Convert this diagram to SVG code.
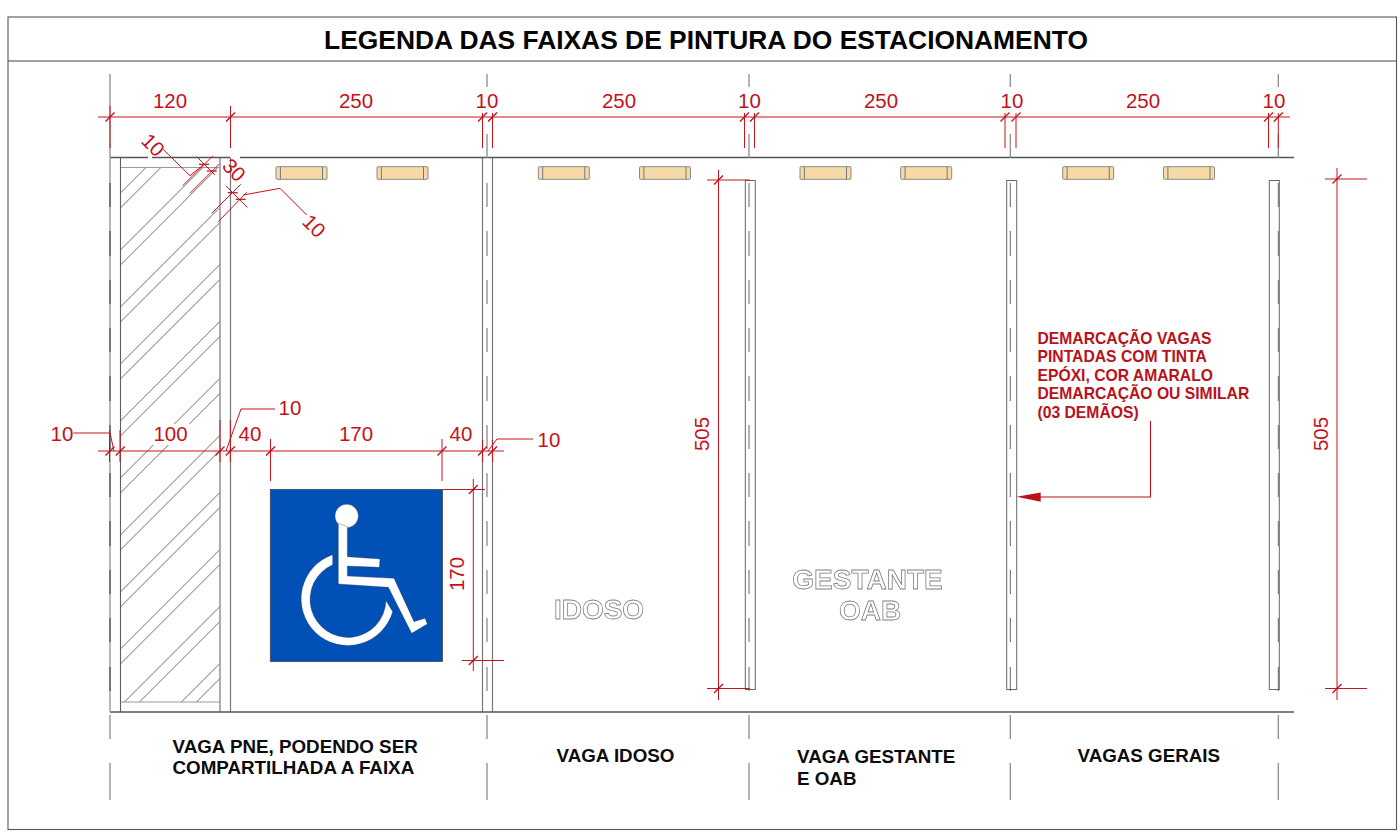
<svg xmlns="http://www.w3.org/2000/svg" width="1400" height="833" viewBox="0 0 1400 833">
<style>
text{font-family:"Liberation Sans",Arial,sans-serif}
.dim{fill:#c4121a;font-size:20.5px;text-anchor:middle}
.red{fill:none;stroke:#c8141c;stroke-width:1}
.tick{fill:none;stroke:#c00c14;stroke-width:1.2}
.ax{fill:none;stroke:#8c8c8c;stroke-width:1.3}
.axd{fill:none;stroke:#666;stroke-width:1}
.wall{fill:none;stroke:#555;stroke-width:1.6}
.edge{fill:none;stroke:#777;stroke-width:1.2}
.thin{fill:none;stroke:#999;stroke-width:1.2}
.hatch{fill:none;stroke:#6e6e6e;stroke-width:1}
.strip{fill:#fff;stroke:#666;stroke-width:1}
.stop{fill:#f5d9a6;stroke:#8a8a8a;stroke-width:1}
.lab{fill:#0c0c0c;font-size:18.8px;font-weight:bold}
.out{fill:#fff;stroke:#808080;stroke-width:.8;font-weight:bold;text-anchor:middle;font-size:28px}
.note{fill:#b8121b;font-size:15.7px;font-weight:bold}
</style>
<defs>
<clipPath id="hc"><rect x="120.5" y="167.5" width="99.5" height="534.5"/></clipPath>
<filter id="gray" x="0" y="0" width="1" height="1"><feOffset dx="0" dy="0"/></filter>
<path id="tk" d="M-4.5 4.5L4.5-4.5" class="tick"/>
<path id="tickh" d="M-5 0H5" class="tick"/>
<g id="stopb"><rect x="0" y="0" width="51" height="12.6" rx="1" class="stop"/><path d="M4.4 0V12.6M46.5 0V12.6" fill="none" stroke="#777" stroke-width="1"/></g>
</defs>
<g id="frame">
<rect x="8" y="17" width="1388.5" height="812.5" fill="#fff" stroke="#555" stroke-width="1.1"/>
<path d="M8 61H1396.5" stroke="#444" stroke-width="1.1" fill="none"/>
<text x="706" y="49" font-size="26.4" font-weight="bold" text-anchor="middle" fill="#050505">LEGENDA DAS FAIXAS DE PINTURA DO ESTACIONAMENTO</text>
</g>
<g id="hatching">
<g clip-path="url(#hc)"><path class="hatch" d="M-388.6 702L145.9 167.5M-373.6 702L160.9 167.5M-331.6 702L202.9 167.5M-316.6 702L217.9 167.5M-274.6 702L259.9 167.5M-259.6 702L274.9 167.5M-217.6 702L316.9 167.5M-202.6 702L331.9 167.5M-160.6 702L373.9 167.5M-145.6 702L388.9 167.5M-103.6 702L430.9 167.5M-88.6 702L445.9 167.5M-46.6 702L487.9 167.5M-31.6 702L502.9 167.5M10.4 702L544.9 167.5M25.4 702L559.9 167.5M67.4 702L601.9 167.5M82.4 702L616.9 167.5M124.4 702L658.9 167.5M139.4 702L673.9 167.5M181.4 702L715.9 167.5M196.4 702L730.9 167.5"/></g>
</g>
<g id="pne-bay">
<path class="thin" d="M120.5 167.5H220M120.5 702H220"/>
<path d="M120.5 157.5V712" fill="none" stroke="#5f5f5f" stroke-width="1.1"/>
<path d="M220 157.5V712" fill="none" stroke="#999" stroke-width="1.6"/>
<path class="edge" d="M230.5 157.5V712M482.5 157.5V712M492.5 157.5V712"/>
<rect x="152" y="424" width="38" height="21" fill="#fff"/>
</g>
<g id="walls">
<path class="wall" d="M110 157.5H148M152 157.5H230M240 157.5H1294M110 712H1294"/>
<path d="M110 157.5V712" fill="none" stroke="#a6a6a6" stroke-width="1.6"/>
<path d="M110 183V207M110 231V256M110 280V304M110 328V352M110 376V401M110 425V449M110 473V497M110 521V546M110 570V594M110 618V642M110 667V691" fill="none" stroke="#666" stroke-width="1.6"/>
</g>
<g id="axes">
<path class="ax" d="M110 74V157M110 715V739M110 763V800M487 74V87M487 134V158M487 183V207M487 231V256M487 280V304M487 328V352M487 376V401M487 425V449M487 473V497M487 521V546M487 570V594M487 618V642M487 667V691M487 715V739M487 763V800M749 74V87M749 134V158M749 715V739M749 763V800M1010.3 74V87M1010.3 134V158M1010.3 715V739M1010.3 763V800M1278.3 74V87M1278.3 134V158M1278.3 715V739M1278.3 763V800"/>
</g>
<g id="painted-strips">
<rect class="strip" x="745.3" y="180.5" width="10" height="509"/>
<rect class="strip" x="1006.7" y="180.5" width="10" height="509"/>
<rect class="strip" x="1269.3" y="180.5" width="10" height="509"/>
<path class="axd" d="M749 183V207M749 231V256M749 280V304M749 328V352M749 376V401M749 425V449M749 473V497M749 521V546M749 570V594M749 618V642M749 667V691M1010.3 183V207M1010.3 231V256M1010.3 280V304M1010.3 328V352M1010.3 376V401M1010.3 425V449M1010.3 473V497M1010.3 521V546M1010.3 570V594M1010.3 618V642M1010.3 667V691M1278.3 183V207M1278.3 231V256M1278.3 280V304M1278.3 328V352M1278.3 376V401M1278.3 425V449M1278.3 473V497M1278.3 521V546M1278.3 570V594M1278.3 618V642M1278.3 667V691"/>
</g>
<g id="wheel-stops">
<use href="#stopb" x="276" y="166.7"/><use href="#stopb" x="377" y="166.7"/><use href="#stopb" x="538.3" y="166.7"/><use href="#stopb" x="639.5" y="166.7"/><use href="#stopb" x="800" y="166.7"/><use href="#stopb" x="900.7" y="166.7"/><use href="#stopb" x="1062.7" y="166.7"/><use href="#stopb" x="1163.5" y="166.7"/>
</g>
<g id="accessibility-sign">
<rect x="270.3" y="489.5" width="172.2" height="172" fill="#0050b5" stroke="#445" stroke-width=".8"/>
<g transform="translate(260 480) scale(.33333)" fill="#fff" stroke="#334" stroke-width="1">
<circle cx="260" cy="108" r="35"/>
<path d="M235 130V312L385 322L455 460L502 432L495 415L462 425L402 295L262 288V258L358 262L360 237L262 230V140Z"/>
<path d="M218 224A140 140 0 1 0 398 395L378 362A114 114 0 1 1 218 254Z"/>
</g>
</g>
<g id="floor-labels" filter="url(#gray)">
<text class="out" x="599" y="619">IDOSO</text>
<text class="out" x="867.5" y="589">GESTANTE</text>
<text class="out" x="870" y="620">OAB</text>
</g>
<g id="connectors">
<g id="dim-top">
<path class="red" d="M98 117H1290M110 106V148M230.5 106V148M482.5 113V148M492.5 113V148M744.5 113V148M754.5 113V148M1005 113V148M1016 113V148M1268.5 113V148M1278.3 113V148"/>
<use href="#tk" x="110" y="117"/><use href="#tk" x="230.5" y="117"/><use href="#tk" x="482.5" y="117"/><use href="#tk" x="492.5" y="117"/><use href="#tk" x="744.5" y="117"/><use href="#tk" x="754.5" y="117"/><use href="#tk" x="1005" y="117"/><use href="#tk" x="1016" y="117"/><use href="#tk" x="1268.5" y="117"/><use href="#tk" x="1278.3" y="117"/>
</g>
<g id="dim-diagonal">
<path class="red" d="M196.7 156.7L215 175M226 186L247.3 207.3M212.7 156L182.7 185.7M219.3 164L190 193.3M240.7 184.3L211.7 213.3M246.7 192.3L218.3 221.7M163 149.3L190 175.7L204 164.3M243.3 195L280 188.3L306.7 215"/>
<use href="#tickh" x="204" y="164.3"/><use href="#tickh" x="211.7" y="171"/><use href="#tickh" x="232.7" y="192.7"/><use href="#tickh" x="240.7" y="199.3"/>
</g>
<g id="dim-mid">
<path class="red" d="M98 451H504M109.5 430V462M120 430V462M220 420V462M230.3 420V462M270.5 439V481M442 439V481M482.5 440V462M492.5 440V462M73.3 433H110L114 451M275 409H241L226 451M533 439H497L488 451"/>
<use href="#tk" x="110" y="451"/><use href="#tk" x="120.3" y="451"/><use href="#tk" x="220" y="451"/><use href="#tk" x="230.3" y="451"/><use href="#tk" x="270.5" y="451"/><use href="#tk" x="442" y="451"/><use href="#tk" x="482.5" y="451"/><use href="#tk" x="492.5" y="451"/>
</g>
<g id="dim-sign">
<path class="red" d="M473.3 479V671M443 489.5H485M462 660.5H504"/>
<use href="#tk" x="473.3" y="489.5"/><use href="#tk" x="473.3" y="660.5"/>
</g>
<g id="dim-505">
<path class="red" d="M718.5 170V700M707 180H750M707 688.5H750M1337 168V700M1325 179H1367M1325 688.5H1367"/>
<use href="#tk" x="718.5" y="180"/><use href="#tk" x="718.5" y="688.5"/><use href="#tk" x="1337" y="179"/><use href="#tk" x="1337" y="688.5"/>
</g>
<g id="note-leader">
<path d="M1150.5 421V497H1040" fill="none" stroke="#b8121b" stroke-width="1.1"/>
<path d="M1016.7 496.7L1040.7 492.5V501.7Z" fill="#b8121b"/>
</g>
</g>
<g id="dim-labels">
<text class="dim" x="170" y="108">120</text><text class="dim" x="356" y="108">250</text><text class="dim" x="487" y="108">10</text><text class="dim" x="619" y="108">250</text><text class="dim" x="749.5" y="108">10</text><text class="dim" x="881" y="108">250</text><text class="dim" x="1012" y="108">10</text><text class="dim" x="1143" y="108">250</text><text class="dim" x="1274" y="108">10</text>
<text class="dim" transform="translate(148 150) rotate(45)">10</text>
<text class="dim" transform="translate(229 175) rotate(45)">30</text>
<text class="dim" transform="translate(309 231) rotate(45)">10</text>
<text class="dim" x="62" y="441">10</text><text class="dim" x="170.5" y="441">100</text><text class="dim" x="250" y="441">40</text><text class="dim" x="356" y="441">170</text><text class="dim" x="461" y="441">40</text><text class="dim" x="290" y="415">10</text><text class="dim" x="549" y="447">10</text>
<text class="dim" transform="translate(464 574) rotate(-90)">170</text>
<text class="dim" transform="translate(709 434) rotate(-90)">505</text>
<text class="dim" transform="translate(1328 434) rotate(-90)">505</text>
</g>
<g id="note">
<text class="note" x="1037.5" y="343.5">DEMARCAÇÃO VAGAS</text>
<text class="note" x="1037.5" y="362">PINTADAS COM TINTA</text>
<text class="note" x="1037.5" y="380.7">EPÓXI, COR AMARALO</text>
<text class="note" x="1037.5" y="399">DEMARCAÇÃO OU SIMILAR</text>
<text class="note" x="1037.5" y="418">(03 DEMÃOS)</text>
</g>
<g id="bay-labels">
<text class="lab" x="172.5" y="752.5">VAGA PNE, PODENDO SER</text>
<text class="lab" x="172.5" y="774">COMPARTILHADA A FAIXA</text>
<text class="lab" x="556.5" y="762">VAGA IDOSO</text>
<text class="lab" x="797" y="763">VAGA GESTANTE</text>
<text class="lab" x="797" y="785">E OAB</text>
<text class="lab" x="1077.5" y="762">VAGAS GERAIS</text>
</g>
</svg>
